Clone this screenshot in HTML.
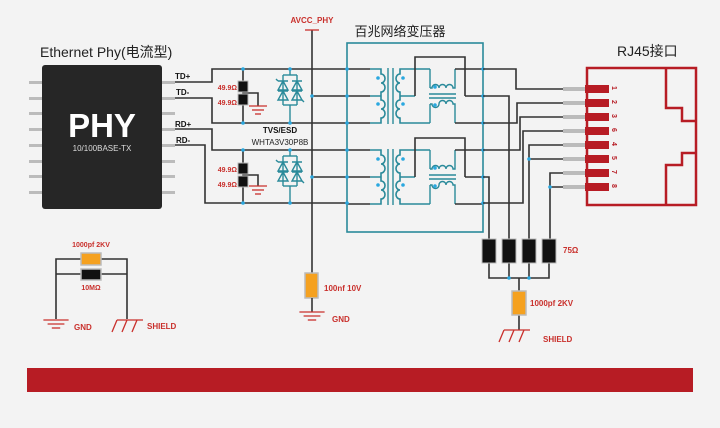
<!DOCTYPE html>
<html><head><meta charset="utf-8"><style>
html,body{margin:0;padding:0;background:#f3f3f3;}
svg{display:block;}
text{font-family:"Liberation Sans","Noto Sans CJK SC",sans-serif;}
</style></head><body>
<svg width="720" height="428" viewBox="0 0 720 428" xmlns="http://www.w3.org/2000/svg">
<rect width="720" height="428" fill="#f3f3f3"/>
<defs>
<g id="res"><rect x="-5" y="0" width="10" height="11" fill="#111" stroke="#bbb" stroke-width="1"/></g>
<g id="gnd" stroke="#c9302c" stroke-width="1.3"><line x1="-9" y1="0" x2="9" y2="0"/><line x1="-6" y1="4" x2="6" y2="4"/><line x1="-3" y1="8" x2="3" y2="8"/></g>
<g id="shield" stroke="#c9302c" stroke-width="1.3" fill="none"><line x1="-10" y1="0" x2="16" y2="0"/><line x1="-10" y1="0" x2="-15" y2="12"/><line x1="0" y1="0" x2="-5" y2="12"/><line x1="10" y1="0" x2="5" y2="12"/></g>
<g id="tvs" stroke="#2a8a9a" stroke-width="1.4" fill="none">
<line x1="0" y1="0" x2="0" y2="6"/><line x1="-7" y1="6" x2="7" y2="6"/>
<line x1="-7" y1="6" x2="-7" y2="36"/><line x1="7" y1="6" x2="7" y2="36"/>
<line x1="-7" y1="36" x2="7" y2="36"/><line x1="0" y1="36" x2="0" y2="42"/>
<path d="M-12 21 L-2 21 L-7 12 Z M-12 12 L-2 12 M2 21 L12 21 L7 12 Z M2 12 L12 12 M-12 31 L-2 31 L-7 22 Z M-12 22 L-2 22 M2 31 L12 31 L7 22 Z M2 22 L12 22"/>
<path d="M-12 12 L-14 10 M12 31 L14 33"/>
</g>
<g id="xf">
<path d="M347 0 H370" stroke="#333" stroke-width="1.6"/><path d="M347 27 H370" stroke="#333" stroke-width="1.6"/><path d="M347 54 H370" stroke="#333" stroke-width="1.6"/>
<path d="M370 0 H381 V5 a4 4.5 0 0 1 0 9 a4 4.5 0 0 1 0 9 V27 H370 M381 27 V31 a4 4.5 0 0 1 0 9 a4 4.5 0 0 1 0 9 V54 H370" stroke="#2a8a9a" stroke-width="1.6" fill="none"/>
<line x1="388" y1="-1" x2="388" y2="55" stroke="#2a8a9a" stroke-width="1.4"/><line x1="393" y1="-1" x2="393" y2="55" stroke="#2a8a9a" stroke-width="1.4"/>
<path d="M430 0 H400 V5 a4 4.5 0 0 0 0 9 a4 4.5 0 0 0 0 9 V27 H415 M400 27 V31 a4 4.5 0 0 0 0 9 a4 4.5 0 0 0 0 9 V54 H430" stroke="#2a8a9a" stroke-width="1.6" fill="none"/>
<circle cx="378" cy="9" r="1.8" fill="#2aa8e0"/><circle cx="378" cy="35" r="1.8" fill="#2aa8e0"/><circle cx="403" cy="9" r="1.8" fill="#2aa8e0"/><circle cx="403" cy="35" r="1.8" fill="#2aa8e0"/>
<path d="M430 0 V19 M430 19 H432 a3.5 3.5 0 0 1 7 0 a3.5 3.5 0 0 1 7 0 a3.5 3.5 0 0 1 7 0 H455 V0" stroke="#2a8a9a" stroke-width="1.4" fill="none"/>
<path d="M430 54 V35 M430 35 H432 a3.5 3.5 0 0 0 7 0 M439 35 a3.5 3.5 0 0 1 7 0 a3.5 3.5 0 0 1 7 0 H455 V54" stroke="#2a8a9a" stroke-width="1.4" fill="none"/>
<line x1="429" y1="25" x2="456" y2="25" stroke="#2a8a9a" stroke-width="1.4"/><line x1="429" y1="29" x2="456" y2="29" stroke="#2a8a9a" stroke-width="1.4"/>
<circle cx="435" cy="18" r="1.8" fill="#2aa8e0"/><circle cx="435" cy="36" r="1.8" fill="#2aa8e0"/>
<path d="M415 27 V-12 H465 V27" stroke="#333" stroke-width="1.6" fill="none"/>
<line x1="455" y1="0" x2="483" y2="0" stroke="#333" stroke-width="1.6"/><line x1="455" y1="54" x2="483" y2="54" stroke="#333" stroke-width="1.6"/><line x1="465" y1="27" x2="483" y2="27" stroke="#333" stroke-width="1.6"/>
</g>
</defs>

<text x="40" y="57" font-size="14" fill="#222">Ethernet Phy(电流型)</text>
<text x="400" y="36" font-size="13" fill="#222" text-anchor="middle">百兆网络变压器</text>
<text x="617" y="56" font-size="14" fill="#222">RJ45接口</text>

<g fill="#bbb">
<rect x="29" y="81" width="13" height="3"/><rect x="29" y="97" width="13" height="3"/><rect x="29" y="112" width="13" height="3"/><rect x="29" y="128" width="13" height="3"/><rect x="29" y="144" width="13" height="3"/><rect x="29" y="160" width="13" height="3"/><rect x="29" y="175" width="13" height="3"/><rect x="29" y="191" width="13" height="3"/>
<rect x="162" y="81" width="13" height="3"/><rect x="162" y="97" width="13" height="3"/><rect x="162" y="112" width="13" height="3"/><rect x="162" y="128" width="13" height="3"/><rect x="162" y="144" width="13" height="3"/><rect x="162" y="160" width="13" height="3"/><rect x="162" y="175" width="13" height="3"/><rect x="162" y="191" width="13" height="3"/>
</g>
<rect x="42" y="65" width="120" height="144" rx="3" fill="#262626"/>
<text x="102" y="137" font-size="33" font-weight="bold" fill="#fff" text-anchor="middle">PHY</text>
<text x="102" y="151" font-size="8" fill="#ddd" text-anchor="middle">10/100BASE-TX</text>
<g font-size="8" font-weight="bold" fill="#111">
<text x="175" y="79">TD+</text><text x="176" y="95">TD-</text><text x="175" y="127">RD+</text><text x="176" y="143">RD-</text>
</g>

<g stroke="#333" stroke-width="1.6" fill="none">
<path d="M175 82 H212 V69 H347"/><path d="M175 98 H212 V123 H347"/>
<path d="M175 129 H212 V150 H347"/><path d="M175 145 H205 V203 H347"/>
<path d="M312 96 H347 M312 177 H347"/>
<path d="M312 30 V273"/>
<path d="M243 69 V81 M243 104 V123 M243 92 V94 M243 93 H258 V106"/>
<path d="M243 150 V163 M243 186 V203 M243 174 V176 M243 175 H258 V186"/>
</g>
<line x1="305" y1="30" x2="319" y2="30" stroke="#c9302c" stroke-width="1.3"/>
<text x="312" y="23" font-size="8" font-weight="bold" fill="#c9302c" text-anchor="middle">AVCC_PHY</text>
<use href="#res" x="243" y="81"/><use href="#res" x="243" y="94"/>
<use href="#res" x="243" y="163"/><use href="#res" x="243" y="176"/>
<use href="#gnd" x="258" y="106"/><use href="#gnd" x="258" y="186"/>
<g font-size="7" font-weight="bold" fill="#c9302c" text-anchor="end">
<text x="237" y="90">49.9Ω</text><text x="237" y="105">49.9Ω</text><text x="237" y="172">49.9Ω</text><text x="237" y="187">49.9Ω</text>
</g>
<use href="#tvs" x="290" y="69"/>
<g transform="translate(0,81)"><use href="#tvs" x="290" y="69"/></g>
<g stroke="#2a8a9a" stroke-width="1.4"><line x1="290" y1="111" x2="290" y2="123"/><line x1="290" y1="192" x2="290" y2="203"/></g>
<text x="280" y="133" font-size="8" font-weight="bold" fill="#111" text-anchor="middle">TVS/ESD</text>
<text x="280" y="145" font-size="8" fill="#222" text-anchor="middle">WHTA3V30P8B</text>
<g fill="#2aa8e0">
<circle cx="243" cy="69" r="1.8"/><circle cx="243" cy="123" r="1.8"/><circle cx="290" cy="69" r="1.8"/><circle cx="290" cy="123" r="1.8"/><circle cx="312" cy="96" r="1.8"/>
<circle cx="243" cy="150" r="1.8"/><circle cx="243" cy="203" r="1.8"/><circle cx="290" cy="150" r="1.8"/><circle cx="290" cy="203" r="1.8"/><circle cx="312" cy="177" r="1.8"/>
</g>

<use href="#xf" y="69"/><use href="#xf" y="150"/>
<rect x="347" y="43" width="136" height="189" fill="none" stroke="#2a8a9a" stroke-width="1.6"/>
<g fill="#2aa8e0">
<circle cx="347" cy="69" r="1.8"/><circle cx="347" cy="96" r="1.8"/><circle cx="347" cy="123" r="1.8"/><circle cx="347" cy="150" r="1.8"/><circle cx="347" cy="177" r="1.8"/><circle cx="347" cy="203" r="1.8"/>
<circle cx="483" cy="69" r="1.8"/><circle cx="483" cy="96" r="1.8"/><circle cx="483" cy="123" r="1.8"/><circle cx="483" cy="150" r="1.8"/><circle cx="483" cy="177" r="1.8"/><circle cx="483" cy="203" r="1.8"/>
</g>

<g stroke="#333" stroke-width="1.6" fill="none">
<path d="M483 69 H516 V89 H563"/>
<path d="M483 123 H517 V103 H563"/>
<path d="M483 150 H520 V117 H563"/>
<path d="M483 203 H523 V131 H563"/>
<path d="M483 96 H509 V239"/>
<path d="M483 177 H489 V239"/>
<path d="M563 145 H529 V239 M563 159 H529"/>
<path d="M563 173 H550 V239 M563 187 H550"/>
<path d="M489 263 V278 H549 V263 M509 263 V278 M529 263 V278 M519 278 V291 M519 315 V330"/>
</g>
<g fill="#2aa8e0"><circle cx="529" cy="159" r="1.8"/><circle cx="550" cy="187" r="1.8"/><circle cx="509" cy="278" r="1.8"/><circle cx="529" cy="278" r="1.8"/></g>
<g fill="#111" stroke="#bbb" stroke-width="1">
<rect x="482" y="239" width="14" height="24"/><rect x="502" y="239" width="14" height="24"/><rect x="522" y="239" width="14" height="24"/><rect x="542" y="239" width="14" height="24"/>
</g>
<text x="563" y="253" font-size="8" font-weight="bold" fill="#c9302c">75Ω</text>
<rect x="512" y="291" width="14" height="24" fill="#f5a11f" stroke="#bbb" stroke-width="1.5"/>
<text x="530" y="306" font-size="8" font-weight="bold" fill="#c9302c">1000pf 2KV</text>
<use href="#shield" x="514" y="330"/>
<text x="543" y="342" font-size="8" font-weight="bold" fill="#c9302c">SHIELD</text>

<g fill="#bbb">
<rect x="563" y="87" width="22" height="4"/><rect x="563" y="101" width="22" height="4"/><rect x="563" y="115" width="22" height="4"/><rect x="563" y="129" width="22" height="4"/><rect x="563" y="143" width="22" height="4"/><rect x="563" y="157" width="22" height="4"/><rect x="563" y="171" width="22" height="4"/><rect x="563" y="185" width="22" height="4"/>
</g>
<g fill="#b71c24">
<rect x="585" y="85" width="24" height="8"/><rect x="585" y="99" width="24" height="8"/><rect x="585" y="113" width="24" height="8"/><rect x="585" y="127" width="24" height="8"/><rect x="585" y="141" width="24" height="8"/><rect x="585" y="155" width="24" height="8"/><rect x="585" y="169" width="24" height="8"/><rect x="585" y="183" width="24" height="8"/>
</g>
<rect x="587" y="68" width="109" height="137" fill="none" stroke="#b71c24" stroke-width="2.5"/>
<path d="M666 68 V108 H682 V121 H696 M696 153 H682 V165 H666 V205" fill="none" stroke="#b71c24" stroke-width="2.5"/>
<g font-size="7" font-weight="bold" fill="#b71c24">
<text transform="translate(612,86) rotate(90)">1</text><text transform="translate(612,100) rotate(90)">2</text><text transform="translate(612,114) rotate(90)">3</text><text transform="translate(612,128) rotate(90)">6</text><text transform="translate(612,142) rotate(90)">4</text><text transform="translate(612,156) rotate(90)">5</text><text transform="translate(612,170) rotate(90)">7</text><text transform="translate(612,184) rotate(90)">8</text>
</g>

<rect x="305" y="273" width="13" height="25" fill="#f5a11f" stroke="#bbb" stroke-width="1.5"/>
<line x1="312" y1="298" x2="312" y2="312" stroke="#333" stroke-width="1.6"/>
<g transform="translate(312,312) scale(1.4,1)"><use href="#gnd"/></g>
<text x="324" y="291" font-size="8" font-weight="bold" fill="#c9302c">100nf 10V</text>
<text x="332" y="322" font-size="8" font-weight="bold" fill="#c9302c">GND</text>

<g stroke="#333" stroke-width="1.6" fill="none">
<path d="M81 259 H56 V319 M101 259 H127 V319 M81 274 H56 M101 274 H127"/>
</g>
<rect x="81" y="253" width="20" height="12" fill="#f5a11f" stroke="#bbb" stroke-width="1.5"/>
<rect x="81" y="269" width="20" height="11" fill="#111" stroke="#bbb" stroke-width="1.5"/>
<text x="91" y="247" font-size="7" font-weight="bold" fill="#c9302c" text-anchor="middle">1000pf 2KV</text>
<text x="91" y="290" font-size="7" font-weight="bold" fill="#c9302c" text-anchor="middle">10MΩ</text>
<g transform="translate(56,320) scale(1.4,1)"><use href="#gnd"/></g>
<text x="74" y="330" font-size="8" font-weight="bold" fill="#c9302c">GND</text>
<use href="#shield" x="127" y="320"/>
<text x="147" y="329" font-size="8" font-weight="bold" fill="#c9302c">SHIELD</text>

<rect x="27" y="368" width="666" height="24" fill="#b71c24"/>
</svg>
</body></html>
